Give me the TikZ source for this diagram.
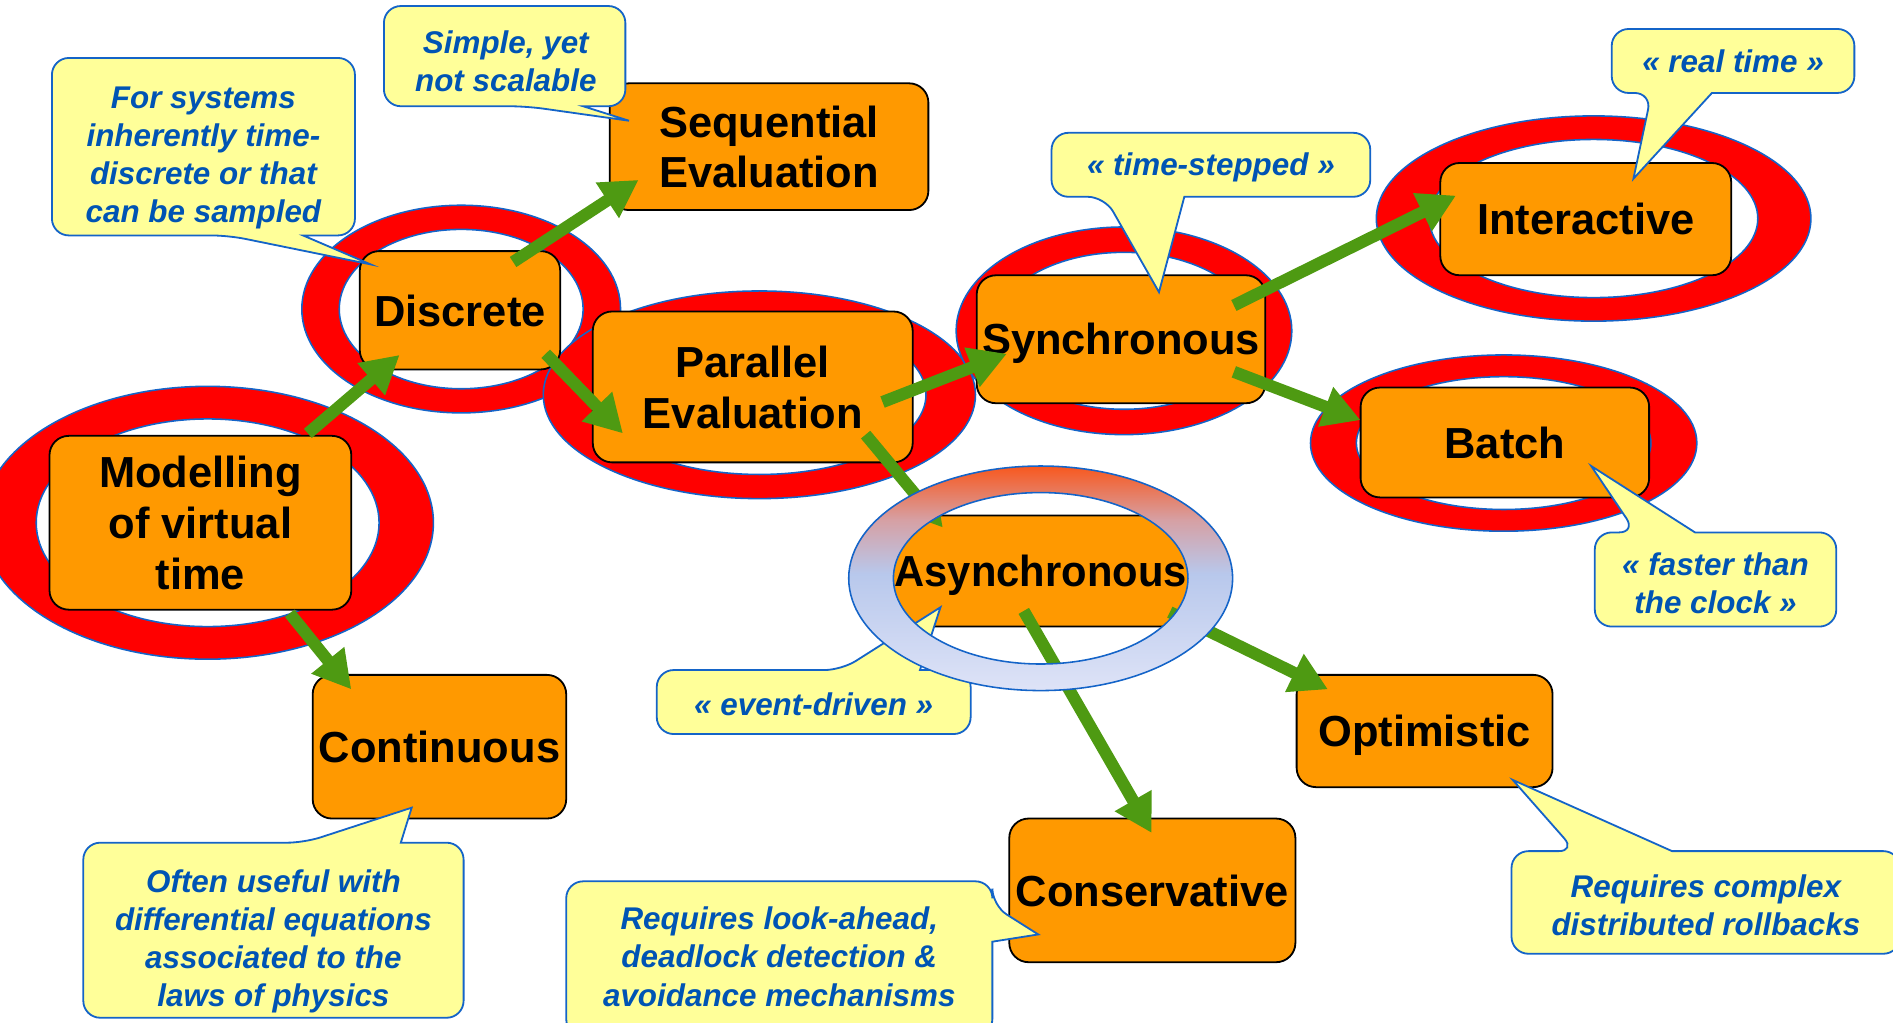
\documentclass[tikz,border=0pt]{standalone}
\usepackage{fontspec}
\setmainfont{Liberation Sans}
\usetikzlibrary{arrows.meta}
\definecolor{orng}{RGB}{255,153,0}
\definecolor{ringblue}{RGB}{20,100,200}
\definecolor{arrgreen}{RGB}{78,154,18}
\definecolor{cyellow}{RGB}{255,255,153}
\definecolor{cblue}{RGB}{20,100,200}
\definecolor{ctxt}{RGB}{0,84,180}
\definecolor{gtop}{RGB}{248,88,30}
\definecolor{gpink}{RGB}{214,160,164}
\definecolor{gmid}{RGB}{184,200,236}
\definecolor{gbot}{RGB}{222,227,247}
\pgfdeclareverticalshading{asyncring}{100bp}{color(0bp)=(gbot); color(25bp)=(gbot); color(51bp)=(gmid); color(63bp)=(gpink); color(75bp)=(gtop); color(100bp)=(gtop)}
\begin{document}
\begin{tikzpicture}[x=1pt,y=-1pt,
  box/.style={draw=black, line width=1.5pt, fill=orng, rounded corners=16pt, align=center, inner sep=0pt,
    text depth=0pt, font=\bfseries\fontsize{36}{42}\selectfont},
  ring/.style={fill=red, even odd rule, draw=ringblue, line width=1.3pt},
  arr/.style={draw=arrgreen, line width=10pt, -{Triangle[length=31pt,width=33pt]}},
  cbox/.style={fill=cyellow, draw=cblue, line width=1.5pt},
  ctext/.style={text=ctxt, font=\bfseries\itshape\fontsize{26}{31.5}\selectfont, align=center, inner sep=0pt},
]
\clip (0,0) rectangle (1568,847);
% red rings
\path[ring] (172,433) ellipse [x radius=187, y radius=113] (172,433) ellipse [x radius=142, y radius=86];
\path[ring] (382,256) ellipse [x radius=132, y radius=86] (382,256) ellipse [x radius=101, y radius=66];
\path[ring] (629,327) ellipse [x radius=179, y radius=86] (629,327) ellipse [x radius=138, y radius=66];
\path[ring] (931,274) ellipse [x radius=139, y radius=86] (931,274) ellipse [x radius=108, y radius=65];
\path[ring] (1320,181) ellipse [x radius=180, y radius=85] (1320,181) ellipse [x radius=136, y radius=65.5];
\path[ring] (1245.5,367) ellipse [x radius=160, y radius=73] (1245.5,367) ellipse [x radius=122, y radius=55];
% boxes
\node[box, minimum width=250pt, minimum height=144pt] (model) at (166,433) {Modelling\\of virtual\\time};
\node[box, minimum width=166pt, minimum height=98pt] (disc) at (381,257) {Discrete};
\node[box, minimum width=264pt, minimum height=105pt] (seq) at (637,121.5) {Sequential\\Evaluation};
\node[box, minimum width=265pt, minimum height=125pt] (par) at (623.5,320.5) {Parallel\\Evaluation};
\node[box, minimum width=239pt, minimum height=106pt] (sync) at (928.5,281) {Synchronous};
\node[box, minimum width=241pt, minimum height=93pt] (inter) at (1313.5,181.5) {Interactive};
\node[box, minimum width=239pt, minimum height=91pt] (batch) at (1246.5,366.5) {Batch};
\node[box, minimum width=255pt, minimum height=92pt] (async) at (862,473) {\scalebox{0.96}[1]{Asynchronous}};
\node[box, minimum width=210pt, minimum height=119pt] (cont) at (364,618.5) {Continuous};
\node[box, minimum width=237pt, minimum height=119pt] (cons) at (954.5,737.5) {Conservative};
\node[box, minimum width=212pt, minimum height=93pt] (opt) at (1180,605.5) {Optimistic};
% arrow ends
\coordinate (a1s) at (255,359);  \coordinate (a1e) at (331,294);
\coordinate (a2s) at (425,217);  \coordinate (a2e) at (529,149);
\coordinate (a3s) at (452,293);  \coordinate (a3e) at (516,359);
\coordinate (a4s) at (731,333);  \coordinate (a4e) at (834,293);
\coordinate (a5s) at (1022,253); \coordinate (a5e) at (1206,162);
\coordinate (a6s) at (1022,308); \coordinate (a6e) at (1127,348);
\coordinate (a7s) at (717,360);  \coordinate (a7e) at (781,437);
\coordinate (a8s) at (848,506);  \coordinate (a8e) at (954,690);
\coordinate (a9s) at (969,507);  \coordinate (a9e) at (1100,571);
\coordinate (a10s) at (240,508); \coordinate (a10e) at (291,571);
\draw[arr] (a1s) -- (a1e);
\draw[arr] (a2s) -- (a2e);
\draw[arr] (a3s) -- (a3e);
\draw[arr] (a4s) -- (a4e);
\draw[arr] (a5s) -- (a5e);
\draw[arr] (a6s) -- (a6e);
\draw[arr] (a7s) -- (a7e);
\draw[arr] (a8s) -- (a8e);
\draw[arr] (a9s) -- (a9e);
\draw[arr] (a10s) -- (a10e);
% callouts
\draw[cbox] (251,195) [rounded corners=14pt] -- (294,195) -- (294,48) -- (43,48) -- (43,195) -- (189,195) [sharp corners] -- (307,219) -- cycle;
\node[ctext] (c1t) at (168.5,131) {For systems\\inherently time-\\discrete or that\\can be sampled};
\draw[cbox] (483,88) [rounded corners=14pt] -- (518,88) -- (518,5) -- (318,5) -- (318,88) -- (436,88) [sharp corners] -- (521,100) -- cycle;
\node[ctext] (c2t) at (419,51) {Simple, yet\\not scalable};
\draw[cbox] (981,163) [rounded corners=14pt] -- (1135,163) -- (1135,110) -- (871,110) -- (871,163) -- (915,163) [sharp corners] -- (960,242) -- cycle;
\node[ctext] (c3t) at (1003,139) {« time-stepped »};
\draw[cbox] (1418,77) [rounded corners=14pt] -- (1536,77) -- (1536,24) -- (1335,24) -- (1335,77) -- (1368,77) [sharp corners] -- (1353,148) -- cycle;
\node[ctext] (c4t) at (1435.5,51) {« real time »};
\draw[cbox] (1404,441) [rounded corners=14pt] -- (1521,441) -- (1521,519) -- (1321,519) -- (1321,441) -- (1355,441) [sharp corners] -- (1318,386) -- cycle;
\node[ctext] (c5t) at (1421,483) {« faster than\\the clock »};
\draw[cbox] (762,555) [rounded corners=14pt] -- (804,555) -- (804,608) -- (544,608) -- (544,555) -- (697,555) [sharp corners] -- (779,503) -- cycle;
\node[ctext] (c6t) at (674,583) {« event-driven »};
\draw[cbox] (332,698) [rounded corners=14pt] -- (384,698) -- (384,843) -- (69,843) -- (69,698) -- (252,698) [sharp corners] -- (341,669) -- cycle;
\node[ctext] (c7t) at (226.5,780) {Often useful with\\differential equations\\associated to the\\laws of physics};
\draw[cbox] (822,780) [rounded corners=14pt] -- (822,858) -- (469,858) -- (469,730) -- (822,730) -- (822,750) [sharp corners] -- (860,774) -- cycle;
\node[ctext] (c8t) at (645.5,792.5) {Requires look-ahead,\\deadlock detection \&\\avoidance mechanisms};
\draw[cbox] (1385,705) [rounded corners=14pt] -- (1574,705) -- (1574,790) -- (1252,790) -- (1252,705) -- (1305,705) [sharp corners] -- (1253,646) -- cycle;
\node[ctext] (c9t) at (1413,749.5) {Requires complex\\distributed rollbacks};
% gradient ring
\shade[even odd rule, shading=asyncring] (862,479) ellipse [x radius=159, y radius=93] (862,479) ellipse [x radius=122, y radius=71];
\draw[ringblue, line width=1.3pt] (862,479) ellipse [x radius=159, y radius=93] (862,479) ellipse [x radius=122, y radius=71];
\end{tikzpicture}
\end{document}
